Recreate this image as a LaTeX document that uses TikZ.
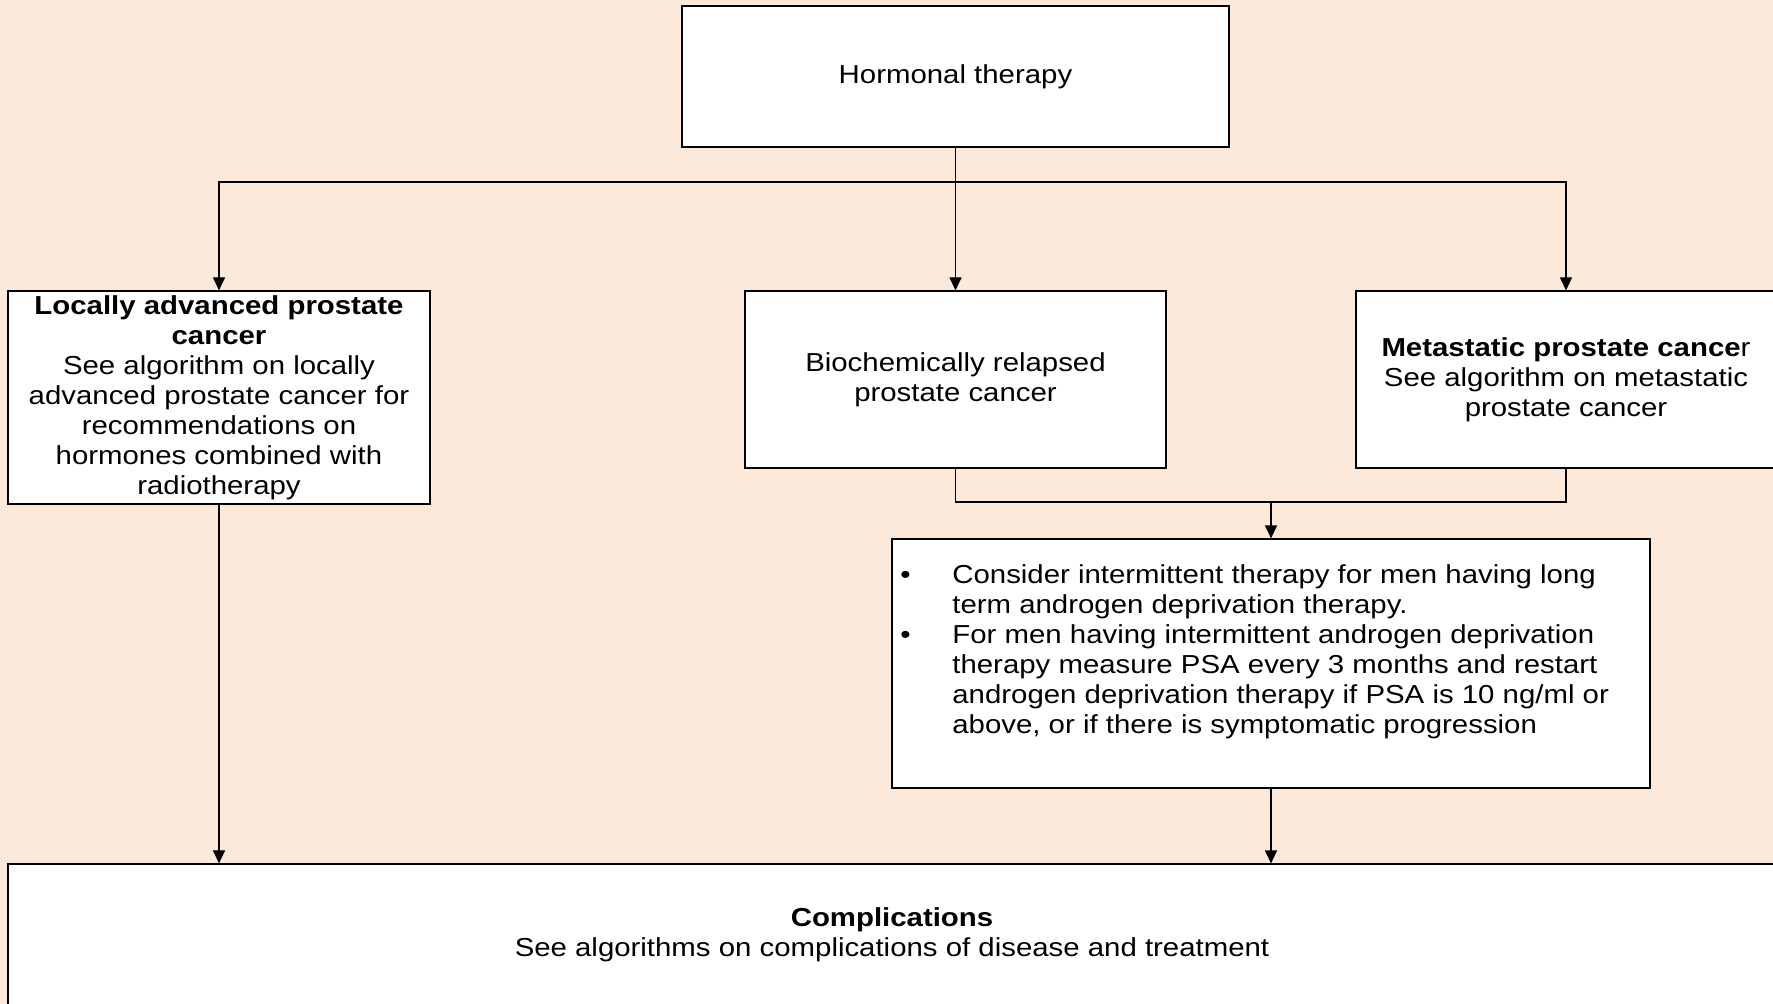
\documentclass[tikz,border=0pt]{standalone}
\usepackage{fontspec}
\setmainfont{Liberation Sans}[FakeStretch=1.13]
\usetikzlibrary{arrows.meta}
\definecolor{peach}{RGB}{253,233,217}
\tikzset{
  box/.style={draw=black, line width=0.6pt, fill=white, inner sep=0pt, align=center,
              font=\fontsize{13pt}{15pt}\selectfont},
  conn/.style={line width=0.6pt, draw=black},
  arr/.style={conn, -{Triangle[length=6.5pt,width=6pt]}},
}
\begin{document}
\begin{tikzpicture}[x=0.5pt, y=-0.5pt]
\useasboundingbox (0,0) rectangle (1773,1004);
\fill[peach] (0,0) rectangle (1773,1004);
\begin{scope}
\clip (0,0) rectangle (1773,1004);
\node[box, minimum width=273.5pt, minimum height=70.5pt] (hormone) at (955.5,76.5) {Hormonal therapy};
\node[box, minimum width=211pt, minimum height=106.5pt] (local) at (219,397.5)
  {\textbf{Locally advanced prostate}\\\textbf{cancer}\\See algorithm on locally\\advanced prostate cancer for\\recommendations on\\hormones combined with\\radiotherapy};
\node[box, minimum width=210.5pt, minimum height=88.5pt] (biochem) at (955.5,379.5)
  {Biochemically relapsed\\prostate cancer};
\node[box, minimum width=210pt, minimum height=88.5pt] (meta) at (1566,379.5)
  {\textbf{Metastatic prostate cance}r\\See algorithm on metastatic\\prostate cancer};
\node[box, minimum width=379pt, minimum height=124.5pt] (bullet) at (1271,663.5) {};
\node[anchor=north west, inner sep=0pt, align=left, font=\fontsize{13pt}{15pt}\selectfont] (btext) at (900,564)
  {\makebox[26pt][l]{\textbullet}Consider intermittent therapy for men having long\\
   \makebox[26pt][l]{}term androgen deprivation therapy.\\
   \makebox[26pt][l]{\textbullet}For men having intermittent androgen deprivation\\
   \makebox[26pt][l]{}therapy measure PSA every 3 months and restart\\
   \makebox[26pt][l]{}androgen deprivation therapy if PSA is 10 ng/ml or\\
   \makebox[26pt][l]{}above, or if there is symptomatic progression};
\node[box, minimum width=884pt, minimum height=71pt] (comp) at (892,935)
  {\textbf{Complications}\\See algorithms on complications of disease and treatment};
\end{scope}
\coordinate (split) at (955.5,182);
\coordinate (join) at (1271,502);
\draw[arr] (hormone.south) -- (biochem.north);
\draw[arr] (split) -| (local.north);
\draw[arr] (split) -| (meta.north);
\draw[conn] (biochem.south) |- (join) -| (meta.south);
\draw[arr] (join) -- (bullet.north);
\draw[arr] (local.south) -- (local.south |- comp.north);
\draw[arr] (bullet.south) -- (bullet.south |- comp.north);
\end{tikzpicture}
\end{document}
